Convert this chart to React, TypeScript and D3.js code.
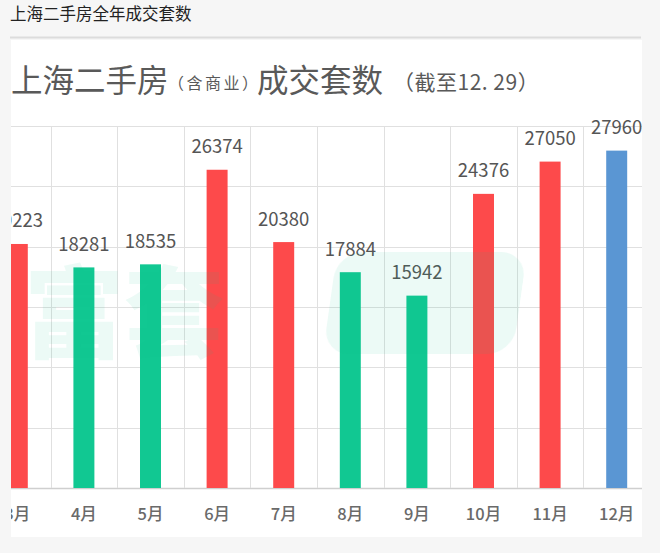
import { useEffect, useRef } from "react";
import * as d3 from "d3";

// Shanghai second-hand housing deals per month (the left edge of the source is cropped at March)
const MONTHS = ["3月", "4月", "5月", "6月", "7月", "8月", "9月", "10月", "11月", "12月"];
const DEALS = [20223, 18281, 18535, 26374, 20380, 17884, 15942, 24376, 27050, 27960];
// red = above 20k, green = below, blue = the unfinished month
const KIND = ["hot", "cool", "cool", "hot", "hot", "cool", "cool", "hot", "hot", "partial"];
const Y_TICKS = [0, 5000, 10000, 15000, 20000, 25000, 30000];

const COLORS: Record<string, string> = {
  hot: "#fd4a4b",
  cool: "#11c892",
  partial: "#5a96d3",
};

const FONT = '"Noto Sans CJK SC", "Noto Sans", sans-serif';
const W = 660;
const H = 553;
const panel = { x: 11, y: 40, w: 631, h: 497 };

export default function App() {
  const ref = useRef<SVGSVGElement | null>(null);

  useEffect(() => {
    const svg = d3.select(ref.current);
    svg.selectAll("*").remove();

    svg.append("rect").attr("width", W).attr("height", H).attr("fill", "#f6f6f6");

    // caption above the image
    svg
      .append("text")
      .attr("x", 10)
      .attr("y", 20)
      .attr("font-family", FONT)
      .attr("font-size", 16.5)
      .attr("fill", "#222")
      .text("上海二手房全年成交套数");

    svg
      .append("line")
      .attr("x1", 10)
      .attr("x2", 641)
      .attr("y1", 37.5)
      .attr("y2", 37.5)
      .attr("stroke", "#dcdcdc")
      .attr("stroke-width", 2);

    svg
      .append("defs")
      .append("clipPath")
      .attr("id", "panel-clip")
      .append("rect")
      .attr("x", panel.x)
      .attr("y", panel.y)
      .attr("width", panel.w)
      .attr("height", panel.h);

    svg
      .append("rect")
      .attr("x", panel.x)
      .attr("y", panel.y)
      .attr("width", panel.w)
      .attr("height", panel.h)
      .attr("fill", "#fff");

    const g = svg.append("g").attr("clip-path", "url(#panel-clip)");

    // headline
    const head = [
      { t: "上海二手房", x: 11, size: 31.5, y: 92, ls: 0 },
      { t: "（含商业）", x: 168, size: 16, y: 89, ls: 2.5 },
      { t: "成交套数", x: 257, size: 31.5, y: 92, ls: 0 },
      { t: "（截至12. 29）", x: 393, size: 21, y: 90, ls: 0.5 },
    ];
    g.selectAll("text.head")
      .data(head)
      .join("text")
      .attr("class", "head")
      .attr("x", (d) => d.x)
      .attr("y", (d) => d.y)
      .attr("font-family", FONT)
      .attr("font-size", (d) => d.size)
      .attr("letter-spacing", (d) => d.ls)
      .attr("fill", "#595959")
      .text((d) => d.t);

    const x = d3
      .scaleBand<string>()
      .domain(MONTHS)
      .range([-16, 650])
      .paddingInner(0.685)
      .paddingOuter(0.685 / 2);
    const y = d3.scaleLinear().domain([0, 30000]).range([488, 126]);
    const half = (x.step() * 0.685) / 2;

    // grid
    g.selectAll("line.hgrid")
      .data(Y_TICKS)
      .join("line")
      .attr("class", "hgrid")
      .attr("x1", panel.x)
      .attr("x2", panel.x + panel.w)
      .attr("y1", (d) => Math.round(y(d)) + 0.5)
      .attr("y2", (d) => Math.round(y(d)) + 0.5)
      .attr("stroke", (d) => (d === 0 ? "#cfcfcf" : "#e0e0e0"))
      .attr("stroke-width", (d) => (d === 0 ? 1.5 : 1));

    const bounds = MONTHS.map((m) => (x(m) ?? 0) - half).concat([650]);
    g.selectAll("line.vgrid")
      .data(bounds)
      .join("line")
      .attr("class", "vgrid")
      .attr("x1", (d) => Math.round(d) + 0.5)
      .attr("x2", (d) => Math.round(d) + 0.5)
      .attr("y1", y(30000))
      .attr("y2", y(0))
      .attr("stroke", "#e0e0e0");

    const data = MONTHS.map((m, i) => ({ m, v: DEALS[i], k: KIND[i] }));

    g.selectAll("rect.bar")
      .data(data)
      .join("rect")
      .attr("class", "bar")
      .attr("x", (d) => x(d.m) ?? 0)
      .attr("y", (d) => y(d.v))
      .attr("width", x.bandwidth())
      .attr("height", (d) => y(0) - y(d.v))
      .attr("fill", (d) => COLORS[d.k]);

    g.selectAll("text.val")
      .data(data)
      .join("text")
      .attr("class", "val")
      .attr("x", (d) => (x(d.m) ?? 0) + x.bandwidth() / 2)
      .attr("y", (d) => y(d.v) - 16.5)
      .attr("text-anchor", "middle")
      .attr("font-family", FONT)
      .attr("font-size", 18.5)
      .attr("fill", "#555")
      .text((d) => d.v);

    g.selectAll("text.month")
      .data(data)
      .join("text")
      .attr("class", "month")
      .attr("x", (d) => (x(d.m) ?? 0) + x.bandwidth() / 2)
      .attr("y", 520)
      .attr("text-anchor", "middle")
      .attr("font-family", FONT)
      .attr("font-size", 16.5)
      .attr("font-weight", 500)
      .attr("fill", "#6a6a6a")
      .text((d) => d.m);

    // faint watermark laid over the bars
    const wm = g.append("g").attr("opacity", 0.08).attr("fill", "#14c08e");
    wm.append("text")
      .attr("x", 24)
      .attr("y", 350)
      .attr("font-family", FONT)
      .attr("font-size", 100)
      .attr("font-weight", 900)
      .text("富套");
    wm.append("rect")
      .attr("x", 330)
      .attr("y", 252)
      .attr("width", 190)
      .attr("height", 102)
      .attr("rx", 26)
      .attr("transform", "skewX(-8)")
      .attr("transform-origin", "425 303");
  }, []);

  return (
    <div style={{ position: "fixed", left: 0, top: 0 }}>
      <svg ref={ref} width={W} height={H} style={{ display: "block" }} />
    </div>
  );
}
